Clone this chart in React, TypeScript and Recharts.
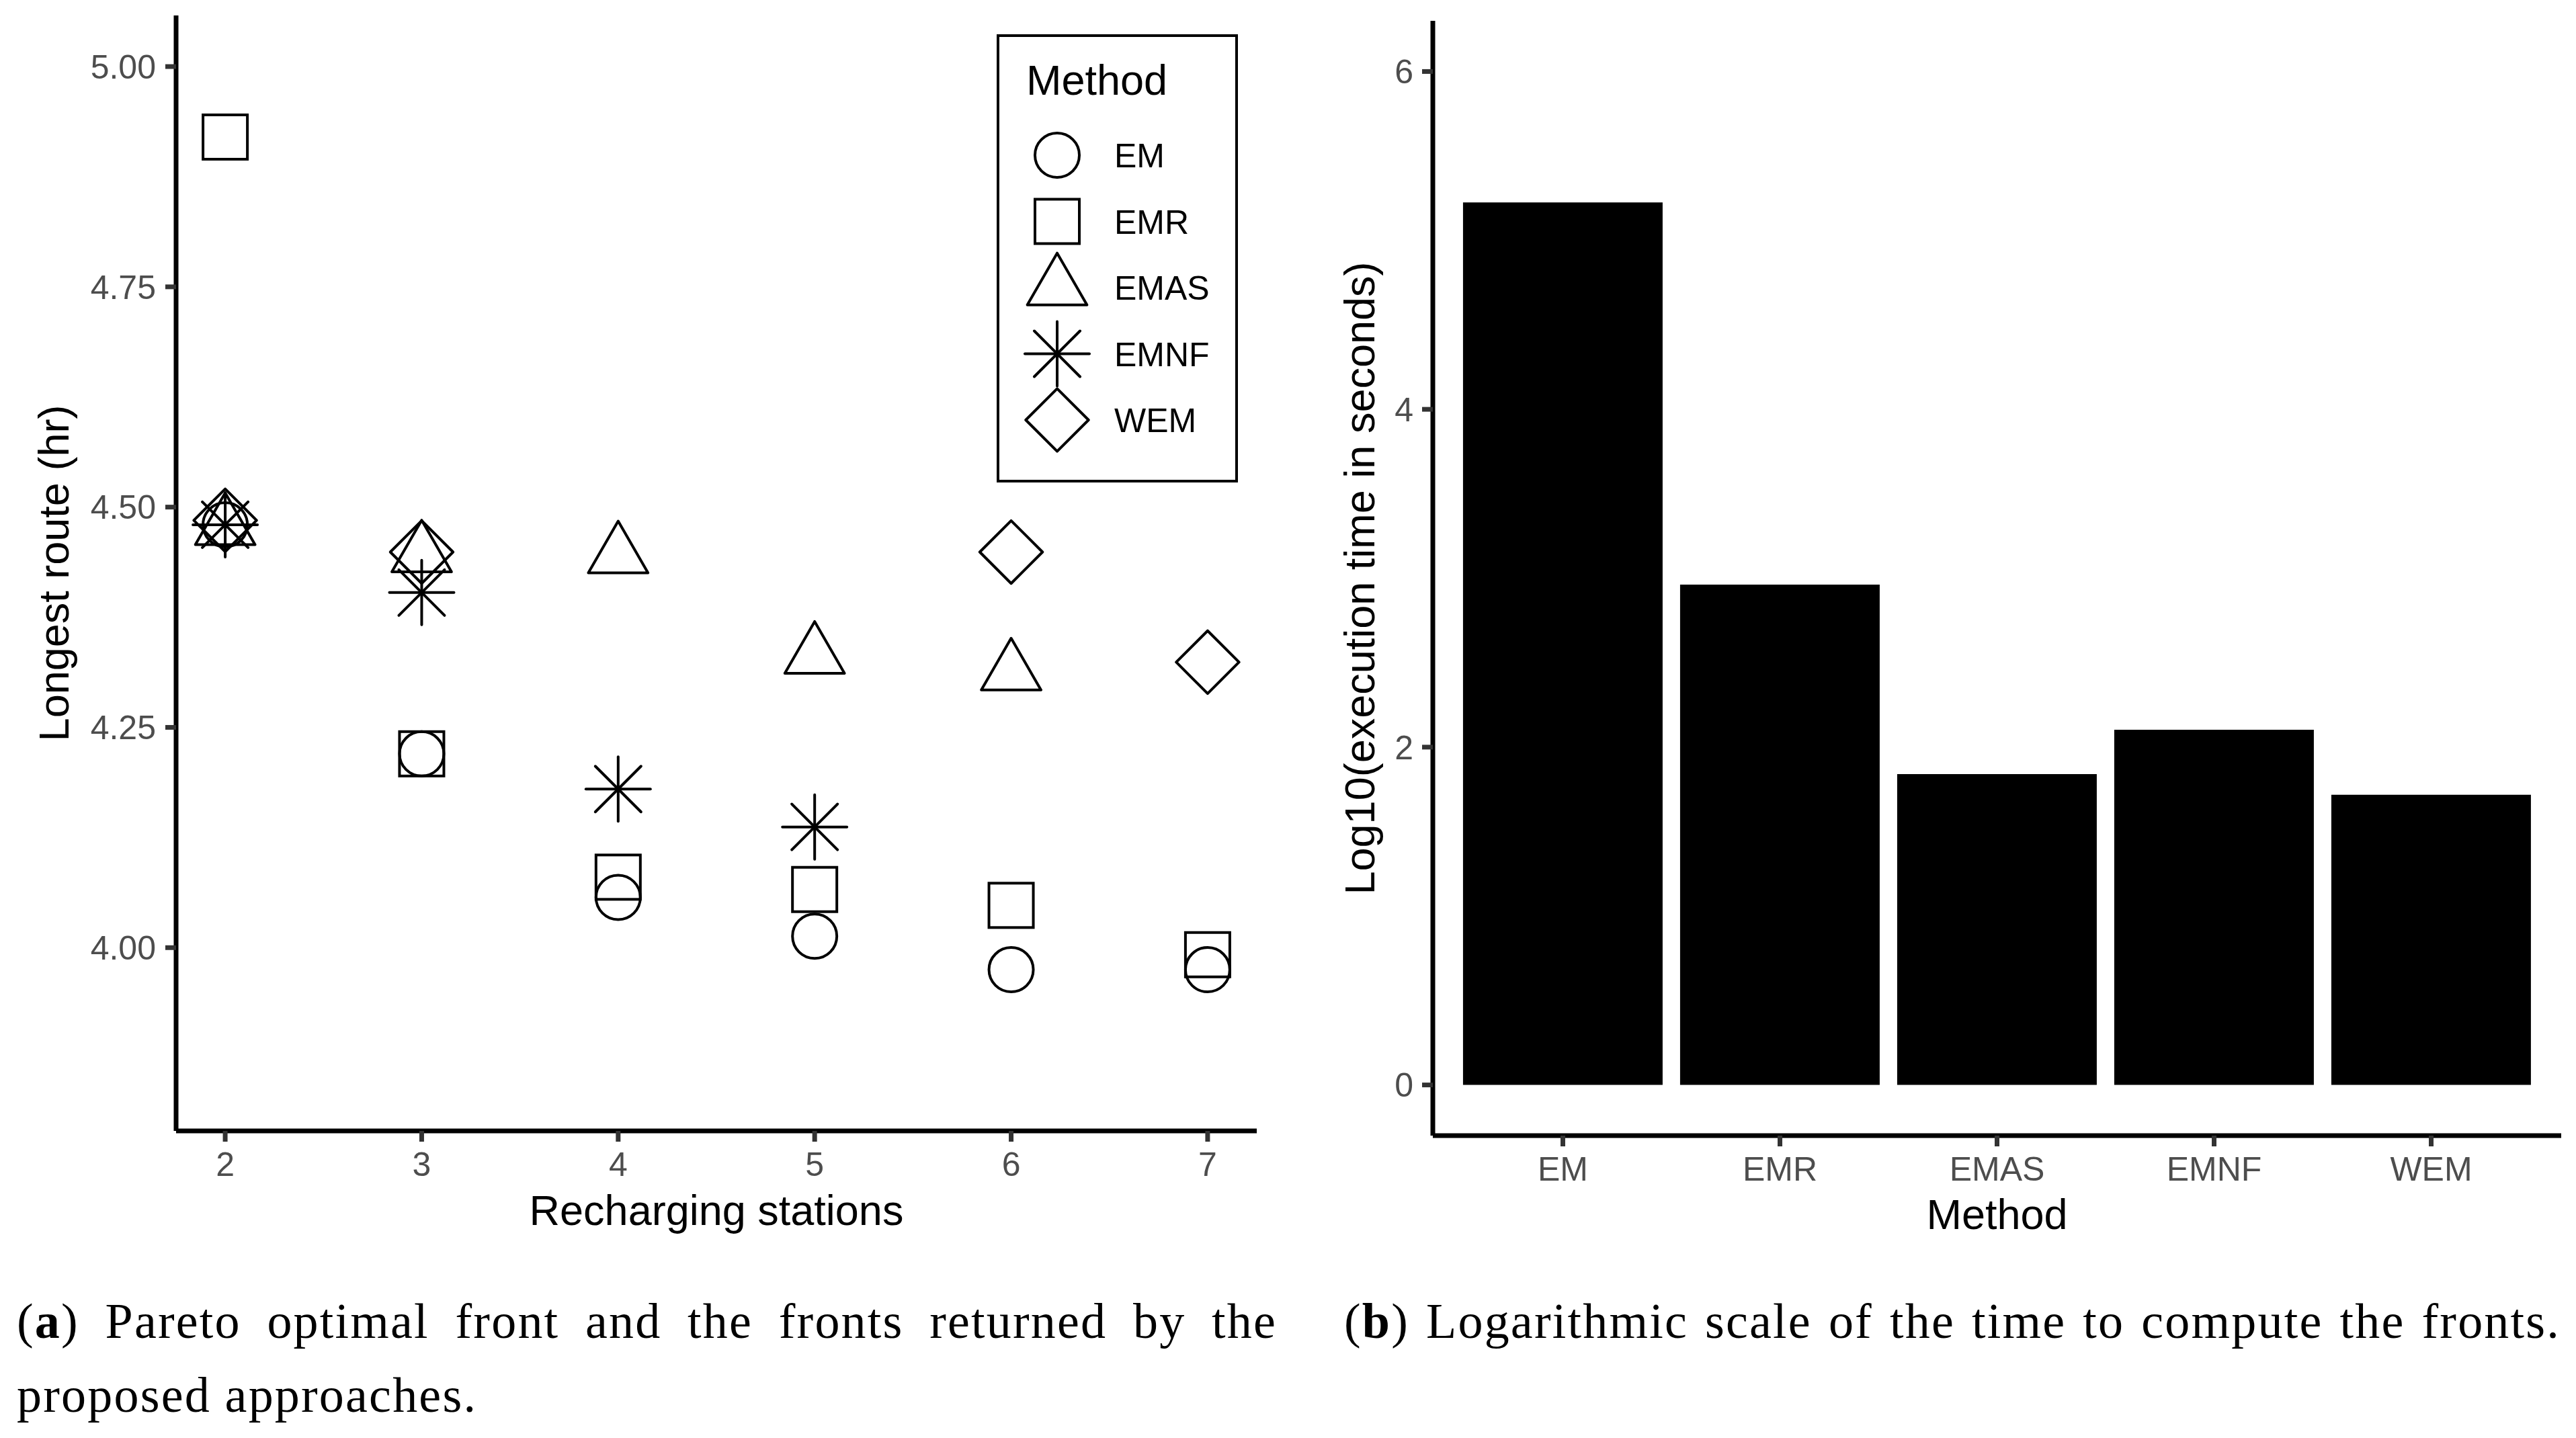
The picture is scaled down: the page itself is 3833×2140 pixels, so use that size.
import { ScatterChart, Scatter, BarChart, Bar, XAxis, YAxis, Legend, Label } from 'recharts'

// recharging stations on the x axis of panel (a)
const stations = [2, 3, 4, 5, 6, 7]

// longest route (hr) per method, null where the method has no point
const emRoute = [4.48, 4.22, 4.057, 4.013, 3.975, 3.975]
const emrRoute = [4.92, 4.22, 4.08, 4.066, 4.048, 3.992]
const emasRoute = [4.477, 4.446, 4.445, 4.331, 4.312, null]
const emnfRoute = [4.48, 4.403, 4.18, 4.137, null, null]
const wemRoute = [4.485, 4.449, null, null, 4.449, 4.324]

const routeTicks = [4, 4.25, 4.5, 4.75, 5]

// panel (b)
const methods = ['EM', 'EMR', 'EMAS', 'EMNF', 'WEM']
const logTimes = [5.225, 2.962, 1.84, 2.103, 1.718]
const timeTicks = [0, 2, 4, 6]

const TICK_COLOR = '#4d4d4d'
const TICK_LINE = '#333333'
const SANS = '"Liberation Sans", Arial, sans-serif'
const SERIF = '"Liberation Serif", "DejaVu Serif", serif'

type Kind = 'circle' | 'square' | 'triangle' | 'star' | 'diamond'

const kinds: Record<string, Kind> = {
  EM: 'circle',
  EMR: 'square',
  EMAS: 'triangle',
  EMNF: 'star',
  WEM: 'diamond',
}

function Marker({ kind, cx, cy }: { kind: Kind; cx: number; cy: number }) {
  const st = { stroke: '#000', strokeWidth: 4, fill: 'none' }
  if (kind === 'circle') return <circle cx={cx} cy={cy} r={33} {...st} />
  if (kind === 'square') return <rect x={cx - 33} y={cy - 33} width={66} height={66} {...st} />
  if (kind === 'triangle') {
    const r = 51.3
    const xc = 44.4
    return <polygon points={`${cx},${cy - r} ${cx + xc},${cy + r / 2} ${cx - xc},${cy + r / 2}`} {...st} strokeLinejoin="round" />
  }
  if (kind === 'diamond') {
    const d = 46.7
    return <polygon points={`${cx},${cy - d} ${cx + d},${cy} ${cx},${cy + d} ${cx - d},${cy}`} {...st} strokeLinejoin="round" />
  }
  const a = 48
  const b = 34
  return (
    <g {...st} strokeLinecap="round">
      <line x1={cx - a} y1={cy} x2={cx + a} y2={cy} />
      <line x1={cx} y1={cy - a} x2={cx} y2={cy + a} />
      <line x1={cx - b} y1={cy - b} x2={cx + b} y2={cy + b} />
      <line x1={cx - b} y1={cy + b} x2={cx + b} y2={cy - b} />
    </g>
  )
}

function toPoints(values: (number | null)[]) {
  return stations
    .map((x, i) => ({ x, y: values[i] }))
    .filter((d) => d.y != null)
}

const series = [
  { name: 'EM', values: emRoute },
  { name: 'EMR', values: emrRoute },
  { name: 'EMAS', values: emasRoute },
  { name: 'EMNF', values: emnfRoute },
  { name: 'WEM', values: wemRoute },
]

// legend box is drawn over the panel, so it lives in a zero-sized wrapper
function MethodLegend() {
  return (
    <svg width={359} height={667} style={{ position: 'absolute', left: 0, top: 0, overflow: 'visible' }}>
      <rect x={2} y={2} width={355} height={663} fill="#fff" stroke="#000" strokeWidth={4} />
      <text x={44} y={90} fontSize={63} fontFamily={SANS} fill="#000">
        Method
      </text>
      {series.map((s, i) => {
        const y = 180 + i * 98.5
        return (
          <g key={s.name}>
            <Marker kind={kinds[s.name]} cx={90} cy={y} />
            <text x={175} y={y} dy="0.36em" fontSize={50} fontFamily={SANS} fill="#000">
              {s.name}
            </text>
          </g>
        )
      })}
    </svg>
  )
}

const tickStyle = { fill: TICK_COLOR, fontSize: 50, fontFamily: SANS }
const axisLine = { stroke: '#000', strokeWidth: 7 }
const tickLine = { stroke: TICK_LINE, strokeWidth: 7 }

function XTitle(text: string, dy: number) {
  return (p: any) => {
    const vb = p.viewBox
    return (
      <text x={vb.x + vb.width / 2} y={vb.y + dy} textAnchor="middle" fontSize={63} fontFamily={SANS} fill="#000">
        {text}
      </text>
    )
  }
}

function YTitle(text: string, dx: number) {
  return (p: any) => {
    const vb = p.viewBox
    const x = vb.x + dx
    const y = vb.y + vb.height / 2
    return (
      <text x={x} y={y} textAnchor="middle" fontSize={63} fontFamily={SANS} fill="#000" transform={`rotate(-90, ${x}, ${y})`}>
        {text}
      </text>
    )
  }
}

const captionStyle = {
  position: 'absolute' as const,
  fontFamily: SERIF,
  fontSize: 74,
  lineHeight: '74px',
  letterSpacing: 2.2,
  whiteSpace: 'nowrap' as const,
  color: '#000',
}

export default function App() {
  const barData = methods.map((m, i) => ({ method: m, time: logTimes[i] }))

  return (
    <div style={{ position: 'absolute', left: 0, top: 0, width: 3833, height: 2140, background: '#fff', fontFamily: SANS }}>
      <div style={{ position: 'absolute', left: 0, top: 0 }}>
        <ScatterChart width={1950} height={1900} margin={{ top: 23, right: 80, left: 62, bottom: 117 }}>
          <XAxis
            type="number"
            dataKey="x"
            domain={[1.75, 7.25]}
            ticks={stations}
            interval={0}
            allowDataOverflow
            height={100}
            axisLine={axisLine}
            tickLine={tickLine}
            tickSize={16}
            tickMargin={15}
            tick={tickStyle}
          >
            <Label content={XTitle('Recharging stations', 140)} />
          </XAxis>
          <YAxis
            type="number"
            dataKey="y"
            domain={[3.792, 5.058]}
            ticks={routeTicks}
            interval={0}
            allowDataOverflow
            width={200}
            axisLine={axisLine}
            tickLine={tickLine}
            tickSize={16}
            tickMargin={14}
            tick={tickStyle}
            tickFormatter={(v: number) => v.toFixed(2)}
          >
            <Label content={YTitle('Longest route (hr)', 40)} />
          </YAxis>
          {series.map((s) => (
            <Scatter
              key={s.name}
              name={s.name}
              data={toPoints(s.values)}
              isAnimationActive={false}
              shape={(p: any) => <Marker kind={kinds[s.name]} cx={p.cx} cy={p.cy} />}
            />
          ))}
          <Legend
            content={<MethodLegend />}
            wrapperStyle={{ position: 'absolute', left: 1483, top: 51, width: 0, height: 0, overflow: 'visible' }}
          />
        </ScatterChart>
      </div>

      <div style={{ position: 'absolute', left: 1950, top: 0 }}>
        <BarChart
          width={1883}
          height={1900}
          data={barData}
          margin={{ top: 31, right: 22, left: 32, bottom: 110 }}
          barCategoryGap="4%"
        >
          <XAxis
            dataKey="method"
            type="category"
            interval={0}
            padding={{ left: 32, right: 32 }}
            height={100}
            axisLine={axisLine}
            tickLine={tickLine}
            tickSize={16}
            tickMargin={15}
            tick={tickStyle}
          >
            <Label content={XTitle('Method', 139)} />
          </XAxis>
          <YAxis
            type="number"
            domain={[-0.3, 6.3]}
            ticks={timeTicks}
            interval={0}
            allowDataOverflow
            width={150}
            axisLine={axisLine}
            tickLine={tickLine}
            tickSize={16}
            tickMargin={13}
            tick={tickStyle}
          >
            <Label content={YTitle('Log10(execution time in seconds)', 63)} />
          </YAxis>
          <Bar dataKey="time" fill="#000" isAnimationActive={false} />
        </BarChart>
      </div>

      <div style={{ ...captionStyle, left: 25, top: 1929, width: 1875, textAlign: 'justify', textAlignLast: 'justify' }}>
        (<b>a</b>) Pareto optimal front and the fronts returned by the
      </div>
      <div style={{ ...captionStyle, left: 25, top: 2039 }}>
        proposed approaches.
      </div>
      <div style={{ ...captionStyle, left: 2000, top: 1929, width: 1810, textAlign: 'justify', textAlignLast: 'justify' }}>
        (<b>b</b>) Logarithmic scale of the time to compute the fronts.
      </div>
    </div>
  )
}
